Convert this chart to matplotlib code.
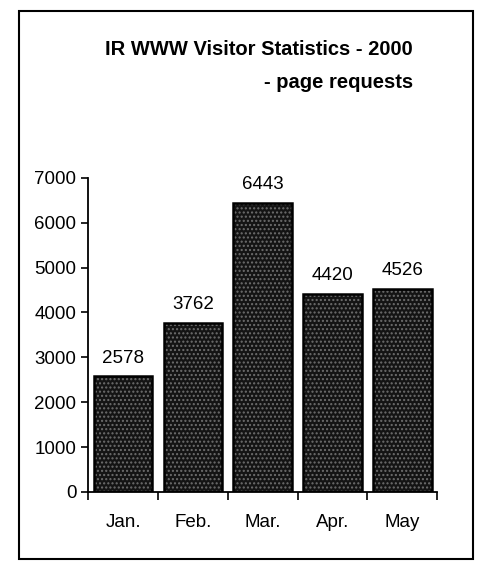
"""Bar chart of monthly page requests, IR WWW visitor statistics 2000."""

import matplotlib

matplotlib.use("Agg")
import matplotlib.pyplot as plt
from matplotlib.patches import Rectangle

months = ["Jan.", "Feb.", "Mar.", "Apr.", "May"]
page_requests = [2578, 3762, 6443, 4420, 4526]
y_ticks = [0, 1000, 2000, 3000, 4000, 5000, 6000, 7000]

plt.rcParams["font.family"] = ["Liberation Sans", "DejaVu Sans"]

fig = plt.figure(figsize=(4.82, 5.72), dpi=100)
ax = fig.add_axes([0.183, 0.140, 0.724, 0.549])

x = list(range(len(months)))
width = 0.84
# speckled dark fill, then a solid outline on top
ax.bar(x, page_requests, width=width, color="#141414", edgecolor="#6e6e6e",
       hatch="....", linewidth=0)
ax.bar(x, page_requests, width=width, fill=False, edgecolor="black", linewidth=1.8)

for xi, v in zip(x, page_requests):
    ax.annotate(str(v), (xi, v), xytext=(0, 7), textcoords="offset points",
                ha="center", va="bottom", fontsize=13.5)

ax.set_xlim(-0.5, len(months) - 0.5)
ax.set_ylim(0, 7000)
ax.set_yticks(y_ticks)
ax.tick_params(axis="y", labelsize=13.5, length=5, width=1.2, direction="out")

# excel style: tick marks between categories, labels centred
ax.set_xticks([i - 0.5 for i in range(len(months) + 1)])
ax.set_xticklabels([])
ax.set_xticks(x, minor=True)
ax.set_xticklabels(months, minor=True, fontsize=13.5)
ax.tick_params(axis="x", which="major", length=6, width=1.2, direction="out")
ax.tick_params(axis="x", which="minor", length=0, pad=16)

for side in ("top", "right"):
    ax.spines[side].set_visible(False)
for side in ("left", "bottom"):
    ax.spines[side].set_linewidth(1.3)

fig.text(0.857, 0.913, "IR WWW Visitor Statistics - 2000", ha="right", va="center",
         fontsize=14.5, fontweight="bold")
fig.text(0.857, 0.855, "- page requests", ha="right", va="center",
         fontsize=14.5, fontweight="bold")

# border round the whole chart
fig.patches.append(Rectangle((0.040, 0.022), 0.942, 0.958, transform=fig.transFigure,
                             fill=False, edgecolor="black", linewidth=1.5))

fig.savefig("out.png", dpi=100)
